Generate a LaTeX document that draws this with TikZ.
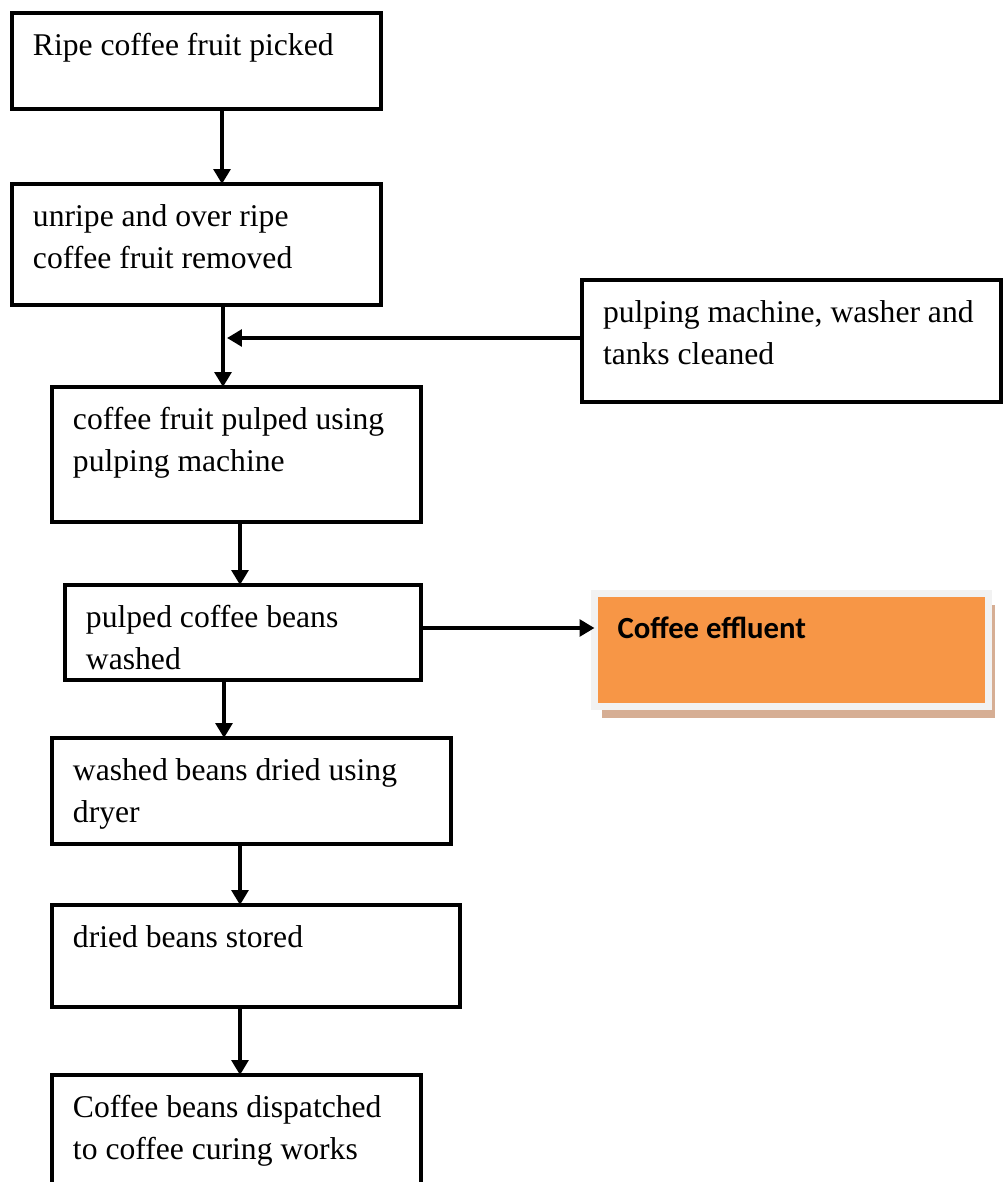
\documentclass[tikz,border=0pt]{standalone}
\usepackage{calc}
\usepackage{fontspec}
\setmainfont{Liberation Serif}
\newfontfamily\effluentfont{Carlito}
\usetikzlibrary{arrows.meta,calc,shadows}

\definecolor{effluentorange}{RGB}{247,150,70}
\definecolor{effluentframe}{RGB}{242,242,242}
\definecolor{effluentshadow}{RGB}{214,174,148}

% text block kept at the top left of a box of given width and height
\newcommand{\flowlines}[3]{\parbox[t][#2-0.5cm][t]{#1-0.84cm}{\begin{tabular}[t]{@{}l@{}}#3\end{tabular}}}

\begin{document}
\begin{tikzpicture}[x=0.02cm,y=-0.02cm,
    flow box/.style={draw,rectangle,line width=1.8pt,anchor=north west,outer sep=0pt,
                     inner xsep=0.42cm,inner ysep=0.25cm,font=\fontsize{18}{24}\selectfont},
    effluent box/.style={draw=effluentframe,fill=effluentorange,line width=4pt,
                     anchor=north west,outer sep=0pt,inner sep=0.46cm,
                     font=\effluentfont\bfseries\fontsize{17.5}{21}\selectfont,
                     drop shadow={shadow xshift=0.14cm,shadow yshift=-0.22cm,fill=effluentshadow,opacity=1}},
    flow/.style={-{Triangle[width=9.5pt,length=8.5pt]},line width=2pt}]

  \useasboundingbox (0,0) rectangle (1003,1182);

  \node[flow box] (ripe) at (12,13) {\flowlines{7.38cm}{1.92cm}{Ripe coffee fruit picked}};
  \node[flow box] (unripe) at (12,184) {\flowlines{7.38cm}{2.42cm}{unripe and over ripe\\coffee fruit removed}};
  \node[flow box] (clean) at (582,280) {\flowlines{8.38cm}{2.44cm}{pulping machine, washer and\\tanks cleaned}};
  \node[flow box] (pulp) at (52,387) {\flowlines{7.38cm}{2.70cm}{coffee fruit pulped using\\pulping machine}};
  \node[flow box] (wash) at (65,585) {\flowlines{7.12cm}{1.90cm}{pulped coffee beans\\washed}};
  \node[effluent box] (effluent) at (594.5,593.5) {\parbox[t][2.27cm-0.92cm][t]{7.88cm-0.92cm}{Coffee effluent}};
  \node[flow box] (dry) at (52,738) {\flowlines{7.98cm}{2.12cm}{washed beans dried using\\dryer}};
  \node[flow box] (store) at (52,905) {\flowlines{8.16cm}{2.04cm}{dried beans stored}};
  \node[flow box] (dispatch) at (52,1075) {\flowlines{7.38cm}{2.60cm}{Coffee beans dispatched\\to coffee curing works}};

  \coordinate (merge) at ($(unripe.south west)+(215,0)$);
  \coordinate (cleanout) at ($(clean.north west)+(0,58)$);
  \coordinate (washout) at ($(wash.north east)+(0,43)$);

  \draw[flow] ($(ripe.south west)+(210,0)$) -- ($(unripe.north west)+(210,0)$);
  \draw[flow] ($(unripe.south west)+(211,0)$) -- ($(pulp.north west)+(171,0)$);
  \draw[flow] (cleanout) -- (cleanout -| merge);
  \draw[flow] ($(pulp.south west)+(188,0)$) -- ($(wash.north west)+(175,0)$);
  \draw[flow] (washout) -- (washout -| effluent.west);
  \draw[flow] ($(wash.south west)+(159,0)$) -- ($(dry.north west)+(172,0)$);
  \draw[flow] ($(dry.south west)+(188,0)$) -- ($(store.north west)+(188,0)$);
  \draw[flow] ($(store.south west)+(188,0)$) -- ($(dispatch.north west)+(188,0)$);

\end{tikzpicture}
\end{document}
